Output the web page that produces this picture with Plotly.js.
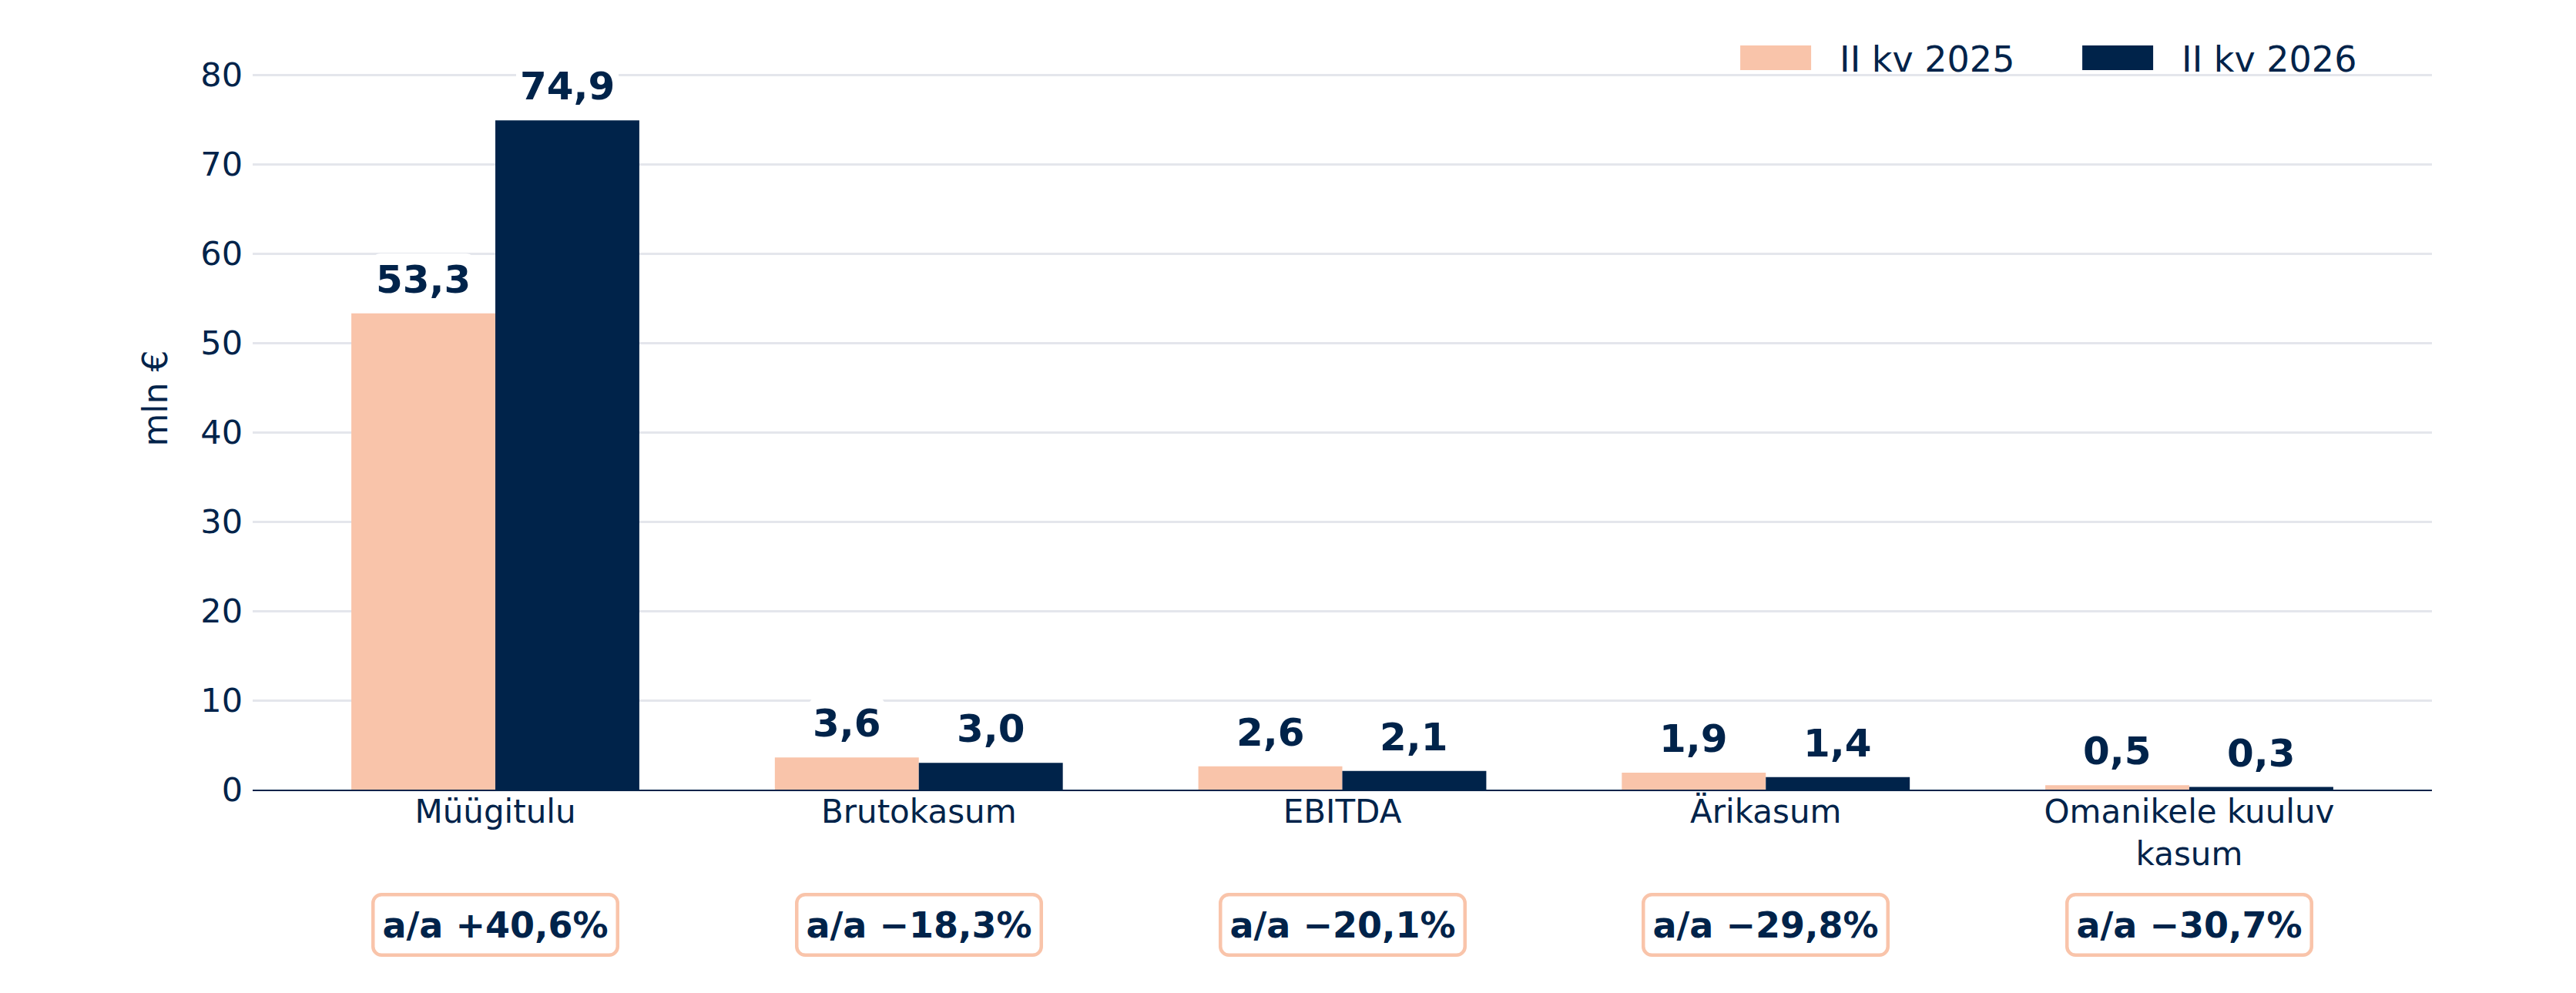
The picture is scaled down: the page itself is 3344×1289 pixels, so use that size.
<!DOCTYPE html>
<html>
<head>
<meta charset="utf-8">
<script src="https://cdn.plot.ly/plotly-3.0.1.min.js"></script>
<style>
  html, body { margin: 0; padding: 0; background: #ffffff; }
  #chart { width: 3344px; height: 1289px; }
</style>
</head>
<body>
<div id="chart"></div>
<script>
// ---- data ----
const categories = ['Müügitulu', 'Brutokasum', 'EBITDA', 'Ärikasum', 'Omanikele kuuluv<br>kasum'];
const seriesNames = ['II kv 2025', 'II kv 2026'];
const values2025 = [53.3, 3.6, 2.6, 1.9, 0.5];
const values2026 = [74.9, 3.0, 2.1, 1.4, 0.3];
const yoyChange = [40.6, -18.3, -20.1, -29.8, -30.7];
const yTickValues = [0, 10, 20, 30, 40, 50, 60, 70, 80];
const yAxisTitle = 'mln €';

// ---- style ----
const NAVY = '#00234A';
const PEACH = '#F9C4AA';
const GRID = '#E4E6EC';
const FONT = 'DejaVu Sans, Verdana, sans-serif';

const fmt = v => v.toFixed(1).replace('.', ',');
const fmtChange = v => 'a/a ' + (v >= 0 ? '+' : '\u2212') + fmt(Math.abs(v)) + '%';

const traces = [
  { type: 'bar', name: seriesNames[0], x: categories, y: values2025,
    marker: { color: PEACH, line: { width: 0 } }, hoverinfo: 'skip' },
  { type: 'bar', name: seriesNames[1], x: categories, y: values2026,
    marker: { color: NAVY, line: { width: 0 } }, hoverinfo: 'skip' }
];

const offset = 0.17;
const annotations = [];
[values2025, values2026].forEach((vals, s) => {
  vals.forEach((v, i) => {
    annotations.push({
      x: i + (s === 0 ? -offset : offset), y: v, xref: 'x', yref: 'y',
      text: '<b>' + fmt(v) + '</b>', showarrow: false,
      xanchor: 'center', yanchor: 'bottom', yshift: 10,
      font: { family: FONT, size: 50, color: NAVY },
      bgcolor: '#ffffff', borderpad: 5, borderwidth: 0
    });
  });
});
yoyChange.forEach((c, i) => {
  annotations.push({
    x: i, y: -0.1728, xref: 'x', yref: 'paper',
    text: '<b>' + fmtChange(c) + '</b>', showarrow: false,
    xanchor: 'center', yanchor: 'middle',
    font: { family: FONT, size: 46, color: NAVY },
    bgcolor: '#ffffff', bordercolor: PEACH, borderwidth: 4.5, borderpad: 10
  });
});

const layout = {
  width: 3344, height: 1289,
  margin: { l: 328, r: 187, t: 9, b: 264, pad: 0 },
  paper_bgcolor: '#ffffff', plot_bgcolor: '#ffffff',
  font: { family: FONT, color: NAVY, size: 42 },
  barmode: 'group', bargap: 0.32, bargroupgap: 0,
  showlegend: true,
  legend: {
    orientation: 'h', x: 0.6667, xanchor: 'left', y: 0.935, yanchor: 'middle',
    font: { family: FONT, size: 46, color: NAVY },
    itemwidth: 164, entrywidth: 265, entrywidthmode: 'pixels',
    bgcolor: 'rgba(0,0,0,0)', traceorder: 'normal', itemclick: false, itemdoubleclick: false
  },
  xaxis: {
    type: 'category', range: [-0.573, 4.573],
    showgrid: false, zeroline: false,
    showline: true, linecolor: NAVY, linewidth: 2,
    ticks: '', ticklabelstandoff: -9,
    tickfont: { family: FONT, size: 42, color: NAVY }
  },
  yaxis: {
    range: [0, 87.6], tickvals: yTickValues, ticktext: yTickValues.map(String),
    showgrid: true, gridcolor: GRID, gridwidth: 3,
    zeroline: false, showline: false, ticks: '', ticklabelstandoff: 12,
    tickfont: { family: FONT, size: 43, color: NAVY },
    title: { text: yAxisTitle, font: { family: FONT, size: 44, color: NAVY }, standoff: 28 }
  },
  annotations: annotations
};

Plotly.newPlot('chart', traces, layout, { staticPlot: true, displayModeBar: false }).then(gd => {
  // enlarge legend swatches to wide rectangles
  gd.querySelectorAll('.legend .legendpoints path').forEach(p => {
    p.setAttribute('d', 'M-42,-16H50V16H-42Z');
  });
  // rounded corners on annotation boxes
  gd.querySelectorAll('.annotation rect.bg').forEach(r => {
    r.setAttribute('rx', 11); r.setAttribute('ry', 11);
  });
});
</script>
</body>
</html>
